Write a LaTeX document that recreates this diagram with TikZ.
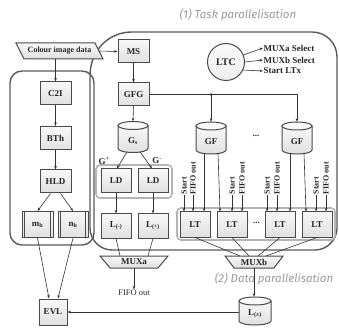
\documentclass[tikz,border=0pt]{standalone}
\usepackage{fontspec}
\setmainfont{Liberation Serif}
\newfontfamily\capfont{Fira Sans}
\usetikzlibrary{shapes.geometric,arrows.meta,calc}
\definecolor{edge}{HTML}{4A4A4A}
\definecolor{wire}{HTML}{333333}
\definecolor{outl}{HTML}{5A5A5A}
\definecolor{grp}{HTML}{B4B4B4}
\definecolor{capc}{HTML}{9A9A9A}
\tikzset{
  lbl/.style={font=\bfseries\fontsize{9}{10}\selectfont, text=black!85},
  box/.style={lbl, draw=edge, line width=1pt, top color=gray!6, bottom color=gray!24,
    minimum width=31pt, minimum height=23pt, inner sep=0pt},
  cylspace/.style={minimum width=#1, inner sep=0pt},
  muxshape/.style={draw=edge, line width=1pt, top color=gray!6, bottom color=gray!24},
  arr/.style={draw=wire, line width=0.6pt, -{Stealth[length=3.5pt,width=2.6pt]}},
  ln/.style={draw=wire, line width=0.6pt},
  outline/.style={draw=outl, line width=1.4pt},
  grpbox/.style={draw=grp, line width=1.6pt, rounded corners=4pt},
  rot/.style={rotate=90, anchor=west, font=\bfseries\fontsize{8}{9}\selectfont, inner sep=0.5pt, text=black!85},
  plain/.style={font=\fontsize{8.5}{9}\selectfont, inner sep=0.5pt, text=black!85},
  outtxt/.style={anchor=west, font=\bfseries\fontsize{9}{10}\selectfont, inner sep=0.5pt, text=black!85},
  captxt/.style={font=\capfont\itshape\fontsize{11.5}{12}\selectfont, text=capc, inner sep=0pt}
}
% cylinder drawn by hand: #1 x, #2 y (centre), #3 width, #4 height
\newcommand{\drawcyl}[4]{%
  \pgfmathsetmacro{\cyL}{#1-#3/2}\pgfmathsetmacro{\cyR}{#1+#3/2}%
  \pgfmathsetmacro{\cyT}{#2-#4/2+4}\pgfmathsetmacro{\cyB}{#2+#4/2-4}%
  \pgfmathsetmacro{\cyXL}{#1-0.552*#3/2}\pgfmathsetmacro{\cyXR}{#1+0.552*#3/2}%
  \pgfmathsetmacro{\cyBB}{\cyB+4}\pgfmathsetmacro{\cyBM}{\cyB+2.2}%
  \path[muxshape] (\cyL,\cyT) -- (\cyL,\cyB) .. controls (\cyL,\cyBM) and (\cyXL,\cyBB) .. (#1,\cyBB)
     .. controls (\cyXR,\cyBB) and (\cyR,\cyBM) .. (\cyR,\cyB) -- (\cyR,\cyT) -- cycle;
  \draw[draw=edge, line width=1pt, fill=gray!5] (#1,\cyT) ellipse [x radius=#3/2, y radius=4];
}
\begin{document}
\begin{tikzpicture}[x=1pt,y=-1pt]
\useasboundingbox (0,0) rectangle (339,328);

% outlines
\draw[outline, rounded corners=12pt] (10,71) rectangle (94,245);
\draw[outline] (90,228) -- (90,76) .. controls (90,51) and (108,32) .. (132,32) -- (312,32)
  .. controls (326,32) and (337,43) .. (337,57) -- (337,228)
  .. controls (337,240) and (327,250) .. (315,250) -- (112,250)
  .. controls (100,250) and (90,240) .. (90,228) -- cycle;
\draw[grpbox] (96,165) rectangle (172,198);
\draw[grpbox] (177,208) rectangle (335,240);

% captions
\node[captxt] (t1) at (238,15) {(1) Task parallelisation};

% input parallelogram
\draw[muxshape] (16,43) -- (95,43) -- (103,59) -- (24,59) -- cycle;
\node[lbl, minimum width=79pt, minimum height=16pt, inner sep=0pt, font=\bfseries\fontsize{8}{9}\selectfont] (cid) at (59.5,51) {Colour image data};

% left column
\node[box] (c2i) at (55.5,93.5) {C2I};
\node[box] (bth) at (55.5,138) {BTh};
\node[box] (hld) at (55.5,181.5) {HLD};
\node[box, minimum height=26pt] (mh) at (37.5,224.5) {m\textsubscript{h}};
\node[box, minimum width=30pt, minimum height=26pt] (nh) at (73,224.5) {n\textsubscript{h}};
\foreach \n in {mh,nh}{
  \draw[draw=edge, line width=0.8pt] ([xshift=3pt]\n.north west) -- ([xshift=3pt]\n.south west);
  \draw[draw=edge, line width=0.8pt] ([xshift=-3pt]\n.north east) -- ([xshift=-3pt]\n.south east);
}
\node[box, minimum width=28pt, minimum height=26pt] (evl) at (53,312) {EVL};

% middle column
\node[box] (ms) at (133.5,51.5) {MS};
\node[box] (gfg) at (133.5,94.5) {GFG};
\drawcyl{133}{137}{30}{31}
\node[cylspace=30pt, minimum height=31pt] (gs) at (133,137) {};
\node[lbl, inner sep=0pt] (gst) at (133,141) {G\textsubscript{s}};
\node[box, minimum width=30pt, minimum height=24pt] (ld1) at (116,181) {LD};
\node[box, minimum width=30pt, minimum height=24pt] (ld2) at (153,181) {LD};
\node[box, minimum width=30pt, minimum height=24pt] (lm) at (116,226) {L\textsubscript{(-)}};
\node[box, minimum width=30pt, minimum height=24pt] (lp) at (153,226) {L\textsubscript{(+)}};
\node[lbl, inner sep=0pt] (gpl) at (104,161) {G\textsuperscript{+}};
\node[lbl, inner sep=0pt] (gmi) at (157,161) {G\textsuperscript{-}};

% MUXa
\draw[muxshape] (100,256) -- (168,256) -- (158,268) -- (110,268) -- cycle;
\node[lbl, inner sep=0pt] (muxa) at (134,262) {MUXa};
\coordinate (muxatop) at (134,256);
\coordinate (muxabot) at (134,268);
\node[plain] (fifoa) at (134,293) {FIFO out};

% LTC
\node[lbl, circle, draw=edge, line width=1pt, top color=gray!4, bottom color=gray!14, minimum size=37pt, inner sep=0pt, font=\bfseries\fontsize{10}{11}\selectfont] (ltc) at (226,62) {LTC};
\node[outtxt] (oa) at (263,48) {MUXa Select};
\node[outtxt] (ob) at (263,60) {MUXb Select};
\node[outtxt] (oc) at (263,71) {Start LTx};

% right column
\drawcyl{211}{138}{30}{32}
\node[cylspace=30pt, minimum height=32pt] (gf1) at (211,138) {};
\node[lbl, inner sep=0pt] (gf1t) at (211,142) {GF};
\drawcyl{297}{138}{30}{32}
\node[cylspace=30pt, minimum height=32pt] (gf2) at (297,138) {};
\node[lbl, inner sep=0pt] (gf2t) at (297,142) {GF};
\node[lbl] (dots1) at (256,136) {...};
\node[box, minimum width=30pt, minimum height=25pt] (lt1) at (195,224.5) {LT};
\node[box, minimum width=30pt, minimum height=25pt] (lt2) at (232,224.5) {LT};
\node[box, minimum width=30pt, minimum height=25pt] (lt3) at (280,224.5) {LT};
\node[box, minimum width=30pt, minimum height=25pt] (lt4) at (317,224.5) {LT};
\node[lbl] (dots2) at (256.5,223) {...};

% MUXb
\draw[muxshape] (225,256) -- (283,256) -- (274,268) -- (234,268) -- cycle;
\node[lbl, inner sep=0pt] (muxb) at (254,262) {MUXb};
\coordinate (muxbtop) at (254,256);
\coordinate (muxbbot) at (254,268);
\drawcyl{255}{311}{32}{28}
\node[cylspace=32pt, minimum height=28pt] (lpm) at (255,311) {};
\node[lbl, inner sep=0pt] (lpmt) at (255,314) {L\textsubscript{(±)}};

% start / fifo labels
\node[rot] (s1) at (184,195) {Start};
\node[rot] (f1) at (193,195) {FIFO out};
\node[rot] (s2) at (232,195) {Start};
\node[rot] (f2) at (242,195) {FIFO out};
\node[rot] (s3) at (267,195) {Start};
\node[rot] (f3) at (277,195) {FIFO out};
\node[rot] (s4) at (316,195) {Start};
\node[rot] (f4) at (326,195) {FIFO out};
\draw[arr] (s1.west) -- (s1.west |- lt1.north);
\draw[arr] (f1.west) -- (f1.west |- lt1.north);
\draw[arr] (s2.west) -- (s2.west |- lt2.north);
\draw[arr] (f2.west) -- (f2.west |- lt2.north);
\draw[arr] (s3.west) -- (s3.west |- lt3.north);
\draw[arr] (f3.west) -- (f3.west |- lt3.north);
\draw[arr] (s4.west) -- (s4.west |- lt4.north);
\draw[arr] (f4.west) -- (f4.west |- lt4.north);

% connectors
\draw[arr] (cid.east) -- (ms.west);
\draw[arr] (cid.south -| c2i.north) -- (c2i.north);
\draw[arr] (c2i) -- (bth);
\draw[arr] (bth) -- (hld);
\draw[arr] ([xshift=-5pt]hld.south) -- (mh.north);
\draw[arr] ([xshift=5pt]hld.south) -- (nh.north);
\draw[arr] (mh.south) -- ([xshift=-4pt]evl.north);
\draw[arr] (nh.south) -- ([xshift=5pt]evl.north);
\draw[arr] (ms) -- (gfg);
\draw[arr] (gfg.south) -- (gs.north);
\draw[arr] ([xshift=-6pt,yshift=1pt]gs.south) -- ([xshift=1pt]ld1.north);
\draw[arr] ([xshift=7pt,yshift=1pt]gs.south) -- ([xshift=-1pt]ld2.north);
\draw[arr] (ld1) -- (lm);
\draw[arr] (ld2) -- (lp);
\draw[ln] (lm.south) -- ([xshift=-14pt]muxatop);
\draw[ln] (lp.south) -- ([xshift=14pt]muxatop);
\draw[arr] (muxabot) -- (fifoa.north);
\draw[arr] (gfg.east) -| (gf2.north);
\draw[arr] (gf1.north |- gfg.east) -- (gf1.north);
\fill[wire] (gf1.north |- gfg.east) circle (1.4);
\draw[arr] ([xshift=-7pt,yshift=1pt]gf1.south) -- ([xshift=9pt]lt1.north);
\draw[arr] ([xshift=7pt,yshift=1pt]gf1.south) -- ([xshift=-12pt]lt2.north);
\draw[arr] ([xshift=-7pt,yshift=1pt]gf2.south) -- ([xshift=10pt]lt3.north);
\draw[arr] ([xshift=7pt,yshift=1pt]gf2.south) -- ([xshift=-11pt]lt4.north);
\draw[ln] (lt1.south) -- ([xshift=-14pt]muxbtop);
\draw[ln] (lt2.south) -- ([xshift=-5pt]muxbtop);
\draw[ln] (lt3.south) -- ([xshift=4pt]muxbtop);
\draw[ln] (lt4.south) -- ([xshift=12pt]muxbtop);
\draw[arr] (muxbbot) -- (muxbbot |- lpm.north);
\draw[arr] (lpm.west |- evl.east) -- (evl.east);
\draw[arr] (ltc.22) -- (oa.west);
\draw[arr] (ltc.0) -- (ob.west);
\draw[arr] (ltc.-25) -- (oc.west);

\node[captxt] (t2) at (274,279) {(2) Data parallelisation};
\end{tikzpicture}
\end{document}
